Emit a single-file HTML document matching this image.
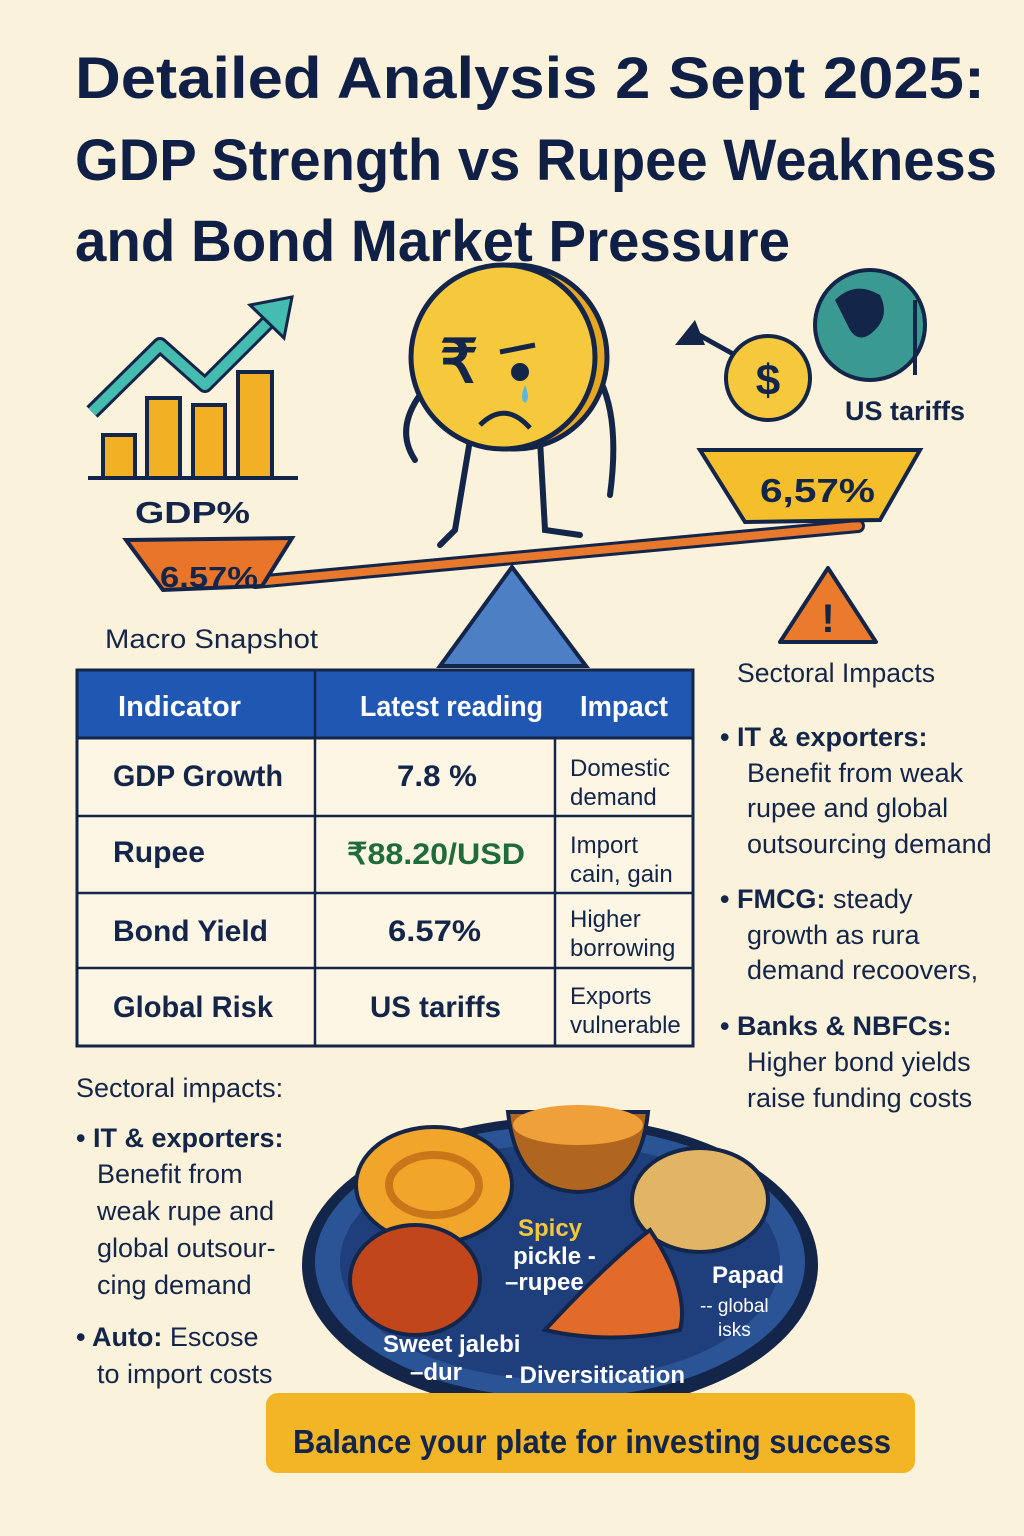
<!DOCTYPE html>
<html><head><meta charset="utf-8"><style>
html,body{margin:0;padding:0;background:#fbf2dc;}
svg{display:block}
text{font-family:"Liberation Sans",sans-serif;}
</style></head><body>
<svg width="1024" height="1536" viewBox="0 0 1024 1536" xmlns="http://www.w3.org/2000/svg">
<rect width="1024" height="1536" fill="#fbf2dc"/>
<g fill="#0f1f45" font-weight="bold" font-size="58">
<text x="75" y="98" textLength="910" lengthAdjust="spacingAndGlyphs">Detailed Analysis 2 Sept 2025:</text>
<text x="75" y="180" textLength="922" lengthAdjust="spacingAndGlyphs">GDP Strength vs Rupee Weakness</text>
<text x="75" y="261" textLength="715" lengthAdjust="spacingAndGlyphs">and Bond Market Pressure</text>
</g>
<!-- chart icon -->
<g stroke="#14254a" stroke-width="4" fill="#f2b124">
<rect x="103" y="435" width="32" height="43"/><rect x="147" y="398" width="33" height="80"/><rect x="193" y="405" width="32" height="73"/><rect x="238" y="372" width="34" height="106"/>
</g>
<line x1="88" y1="478" x2="298" y2="478" stroke="#14254a" stroke-width="4"/>
<polyline points="92,412 160,345 205,385 272,318" fill="none" stroke="#14254a" stroke-width="16" stroke-linejoin="round"/>
<polyline points="92,412 160,345 205,385 272,318" fill="none" stroke="#45bcb0" stroke-width="10" stroke-linejoin="round"/>
<polygon points="292,297 250,305 284,338" fill="#45bcb0" stroke="#14254a" stroke-width="3"/>
<text x="135" y="523" font-size="31" font-weight="bold" fill="#14254a" textLength="115" lengthAdjust="spacingAndGlyphs">GDP%</text>
<!-- beam -->
<line x1="255" y1="582" x2="858" y2="526" stroke="#14254a" stroke-width="14" stroke-linecap="round"/>
<line x1="255" y1="582" x2="858" y2="526" stroke="#e8792c" stroke-width="8" stroke-linecap="round"/>
<polygon points="126,540 292,538 262,586 163,590" fill="#e8752a" stroke="#14254a" stroke-width="4"/>
<text x="160" y="587" font-size="29" font-weight="bold" fill="#14254a" textLength="98" lengthAdjust="spacingAndGlyphs">6.57%</text>
<polygon points="440,666 512,567 586,666" fill="#4d7fc4" stroke="#14254a" stroke-width="4"/>
<!-- coin character -->
<g stroke="#14254a" stroke-width="6" fill="none" stroke-linecap="round">
<path d="M470 440 L455 530 L440 545"/><path d="M540 440 L545 530 L580 535"/>
<path d="M600 380 Q620 420 610 495"/><path d="M420 395 Q395 430 415 460"/>
</g>
<circle cx="515" cy="357" r="92" fill="#e6a823" stroke="#14254a" stroke-width="5"/>
<circle cx="503" cy="357" r="92" fill="#f6c93c" stroke="#14254a" stroke-width="5"/>
<text x="440" y="382" font-size="60" font-weight="bold" fill="#14254a">₹</text>
<circle cx="520" cy="372" r="9" fill="#14254a"/>
<path d="M500 352 L535 345" stroke="#14254a" stroke-width="5"/>
<path d="M480 425 Q505 400 530 428" stroke="#14254a" stroke-width="5" fill="none"/>
<path d="M525 385 q-6 14 0 18 q6 -4 0 -18" fill="#5cb7e0"/>
<!-- right side -->
<circle cx="870" cy="325" r="55" fill="#3a9a92" stroke="#14254a" stroke-width="4"/>
<path d="M835 300 q20 -20 45 -5 q10 20 -5 35 q-15 15 -25 0 z" fill="#14254a"/>
<line x1="915" y1="300" x2="915" y2="375" stroke="#14254a" stroke-width="4"/>
<line x1="735" y1="355" x2="690" y2="330" stroke="#14254a" stroke-width="5"/>
<polygon points="675,345 695,320 705,345" fill="#14254a"/>
<circle cx="768" cy="378" r="42" fill="#f6c93c" stroke="#14254a" stroke-width="4"/>
<text x="768" y="395" font-size="44" font-weight="bold" fill="#14254a" text-anchor="middle">$</text>
<text x="845" y="420" font-size="27" font-weight="bold" fill="#14254a" textLength="120" lengthAdjust="spacingAndGlyphs">US tariffs</text>
<polygon points="700,450 920,450 880,520 745,522" fill="#f5bf2c" stroke="#14254a" stroke-width="4"/>
<text x="760" y="502" font-size="33" font-weight="bold" fill="#14254a" textLength="115" lengthAdjust="spacingAndGlyphs">6,57%</text>
<polygon points="828,568 876,642 780,642" fill="#ea7a2c" stroke="#14254a" stroke-width="4" stroke-linejoin="round"/>
<text x="828" y="632" font-size="40" font-weight="bold" fill="#14254a" text-anchor="middle">!</text>
<text x="105" y="648" font-size="27" fill="#14254a" textLength="213" lengthAdjust="spacingAndGlyphs">Macro Snapshot</text>
<text x="737" y="682" font-size="27" fill="#14254a" textLength="198" lengthAdjust="spacingAndGlyphs">Sectoral Impacts</text>
<!-- table -->
<rect x="77" y="670" width="616" height="376" fill="#fdf6e4" stroke="#14254a" stroke-width="3"/>
<rect x="77" y="670" width="616" height="68" fill="#1f57b2" stroke="#14254a" stroke-width="3"/>
<g stroke="#14254a" stroke-width="2.5">
<line x1="315" y1="670" x2="315" y2="1046"/><line x1="555" y1="738" x2="555" y2="1046"/>
<line x1="77" y1="816" x2="693" y2="816"/><line x1="77" y1="893" x2="693" y2="893"/><line x1="77" y1="968" x2="693" y2="968"/>
</g>
<g fill="#fff" font-size="29" font-weight="bold">
<text x="118" y="716" textLength="123" lengthAdjust="spacingAndGlyphs">Indicator</text>
<text x="360" y="716" textLength="183" lengthAdjust="spacingAndGlyphs">Latest reading</text>
<text x="580" y="716" textLength="88" lengthAdjust="spacingAndGlyphs">Impact</text>
</g>
<g fill="#14254a" font-size="30" font-weight="bold">
<text x="113" y="786" textLength="170" lengthAdjust="spacingAndGlyphs">GDP Growth</text>
<text x="113" y="862" textLength="92" lengthAdjust="spacingAndGlyphs">Rupee</text>
<text x="113" y="941" textLength="155" lengthAdjust="spacingAndGlyphs">Bond Yield</text>
<text x="113" y="1017" textLength="160" lengthAdjust="spacingAndGlyphs">Global Risk</text>
<text x="397" y="786" textLength="80" lengthAdjust="spacingAndGlyphs">7.8 %</text>
<text x="347" y="864" fill="#1f6b3a" textLength="178" lengthAdjust="spacingAndGlyphs">₹88.20/USD</text>
<text x="388" y="941" textLength="93" lengthAdjust="spacingAndGlyphs">6.57%</text>
<text x="370" y="1017" textLength="131" lengthAdjust="spacingAndGlyphs">US tariffs</text>
</g>
<g fill="#14254a" font-size="24">
<text x="570" y="776">Domestic</text><text x="570" y="805">demand</text>
<text x="570" y="853">Import</text><text x="570" y="882">cain, gain</text>
<text x="570" y="927">Higher</text><text x="570" y="956">borrowing</text>
<text x="570" y="1004">Exports</text><text x="570" y="1033">vulnerable</text>
</g>
<!-- right bullets -->
<g fill="#14254a" font-size="27">
<text x="720" y="746" font-weight="bold">•  IT &amp; exporters:</text>
<text x="747" y="782">Benefit from weak</text><text x="747" y="817">rupee and global</text><text x="747" y="853">outsourcing demand</text>
<text x="720" y="908"><tspan font-weight="bold">•  FMCG:</tspan> steady</text>
<text x="747" y="944">growth as rura</text><text x="747" y="979">demand recoovers,</text>
<text x="720" y="1035" font-weight="bold">•  Banks &amp; NBFCs:</text>
<text x="747" y="1071">Higher bond yields</text><text x="747" y="1107">raise funding costs</text>
</g>
<!-- left bottom -->
<g fill="#14254a" font-size="27">
<text x="76" y="1097">Sectoral impacts:</text>
<text x="76" y="1147" font-weight="bold">• IT &amp; exporters:</text>
<text x="97" y="1183">Benefit from</text><text x="97" y="1220">weak rupe and</text><text x="97" y="1257">global outsour-</text><text x="97" y="1294">cing demand</text>
<text x="76" y="1346"><tspan font-weight="bold">• Auto:</tspan> Escose</text>
<text x="97" y="1383">to import costs</text>
</g>
<!-- plate -->
<ellipse cx="560" cy="1265" rx="258" ry="148" fill="#14254a"/>
<ellipse cx="560" cy="1262" rx="245" ry="136" fill="#2a5496"/>
<ellipse cx="560" cy="1262" rx="220" ry="118" fill="#1f3f7c"/>
<ellipse cx="434" cy="1185" rx="78" ry="58" fill="#f1a52a" stroke="#14254a" stroke-width="4"/>
<ellipse cx="434" cy="1185" rx="45" ry="30" fill="none" stroke="#c9761a" stroke-width="8"/>
<path d="M508 1112 L648 1112 Q640 1190 578 1192 Q516 1190 508 1112 Z" fill="#b0661e" stroke="#14254a" stroke-width="4"/>
<ellipse cx="578" cy="1125" rx="65" ry="20" fill="#f0a03a"/>
<ellipse cx="700" cy="1200" rx="68" ry="52" fill="#e2b565" stroke="#14254a" stroke-width="4"/>
<ellipse cx="415" cy="1280" rx="65" ry="55" fill="#c1461c" stroke="#14254a" stroke-width="4"/>
<path d="M545 1330 Q610 1260 650 1230 Q690 1290 680 1330 Q610 1345 545 1330 Z" fill="#e36b2a" stroke="#14254a" stroke-width="4"/>
<g font-size="24" font-weight="bold">
<text x="518" y="1236" fill="#f5c73a">Spicy</text>
<text x="513" y="1264" fill="#fff">pickle -</text><text x="505" y="1290" fill="#fff">–rupee</text>
<text x="712" y="1283" fill="#fff">Papad</text>
<text x="383" y="1352" fill="#fff">Sweet jalebi</text><text x="410" y="1380" fill="#fff">–dur</text>
<text x="505" y="1383" fill="#fff">- Diversitication</text>
</g>
<g font-size="19" fill="#fff"><text x="700" y="1312">--  global</text><text x="718" y="1336">isks</text></g>
<!-- banner -->
<rect x="266" y="1393" width="649" height="80" rx="12" fill="#f2b526"/>
<text x="293" y="1453" font-size="33" font-weight="bold" fill="#14254a" textLength="598" lengthAdjust="spacingAndGlyphs">Balance your plate for investing success</text>
</svg>
</body></html>
